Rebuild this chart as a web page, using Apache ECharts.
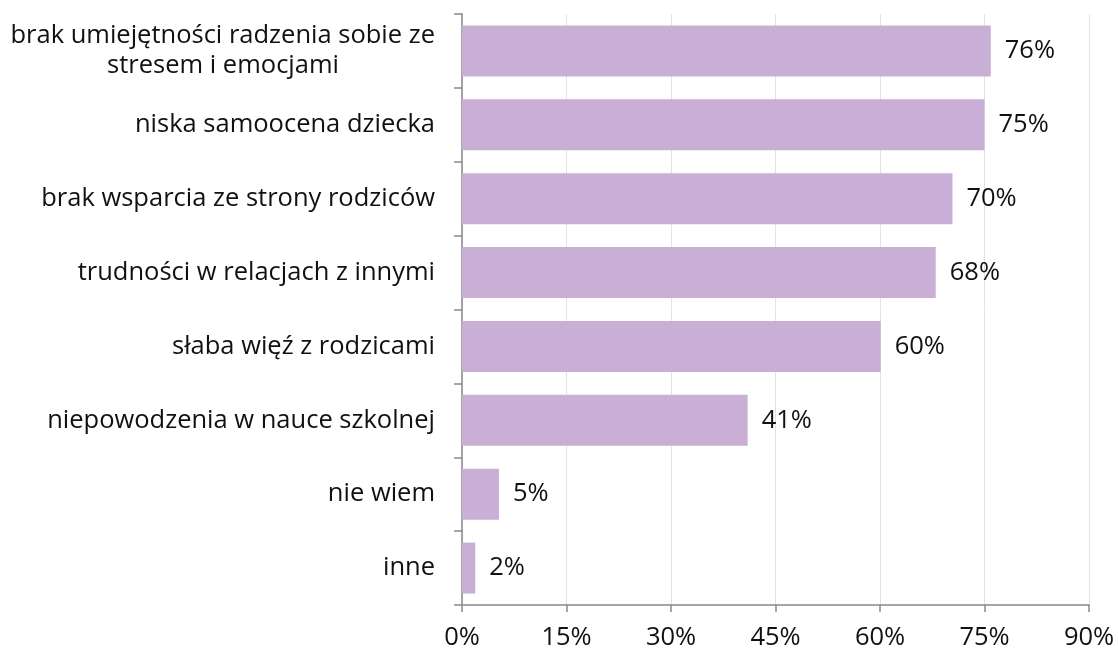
<!DOCTYPE html>
<html lang="pl">
<head>
    <meta charset="UTF-8">
    <title>Przyczyny</title>
    <style>
        body{ margin:0; }
        #chart{ width:1118px; height:653px; }
    </style>
</head>
<body>
<div id="chart"></div>
<script src="https://cdn.jsdelivr.net/npm/echarts@6/dist/echarts.min.js"></script>
<script>
    var categories = [
        'brak umiejętności radzenia sobie ze\nstresem i emocjami',
        'niska samoocena dziecka',
        'brak wsparcia ze strony rodziców',
        'trudności w relacjach z innymi',
        'słaba więź z rodzicami',
        'niepowodzenia w nauce szkolnej',
        'nie wiem',
        'inne'
    ];
    var values = [75.9, 75.0, 70.4, 68.0, 60.1, 41.0, 5.3, 1.9];
    var xTicks = [0, 15, 30, 45, 60, 75, 90];

    var font = '"Open Sans", sans-serif';
    var fs = 25.5;

    // szerokość tekstu, żeby wyśrodkować drugą linię etykiety
    var ctx = document.createElement('canvas').getContext('2d');
    ctx.font = fs + 'px ' + font;
    function textW(t) { return ctx.measureText(t).width; }
    var p0 = categories[0].split('\n');
    var padRight = Math.round((textW(p0[0]) - textW(p0[1])) / 2);

    var myChart = echarts.init(document.getElementById('chart'));
    var option = {
        textStyle: { fontFamily: font },
        grid: { left: 462, right: 29, top: 14, bottom: 48 },
        xAxis: {
            type: 'value',
            min: xTicks[0],
            max: xTicks[xTicks.length - 1],
            interval: 15,
            axisLine: { show: true, lineStyle: { color: '#898989', width: 1.5 } },
            axisTick: { show: true, length: 7, lineStyle: { color: '#898989', width: 1.5 } },
            splitLine: { show: true, lineStyle: { color: '#e3e3e3' } },
            axisLabel: {
                formatter: '{value}%', color: '#111', fontSize: fs, margin: 20,
                fontFamily: font
            }
        },
        yAxis: {
            type: 'category',
            inverse: true,
            data: categories,
            axisLine: { show: true, lineStyle: { color: '#898989', width: 1.5 } },
            axisTick: { show: true, length: 8, lineStyle: { color: '#898989', width: 1.5 } },
            axisLabel: {
                color: '#111', fontSize: fs, margin: 27, lineHeight: 30,
                fontFamily: font,
                formatter: function (v) {
                    var parts = v.split('\n');
                    if (parts.length < 2) return v;
                    return parts[0] + '\n{c|' + parts[1] + '}';
                },
                rich: {
                    c: { fontSize: fs, color: '#111', lineHeight: 30, fontFamily: font,
                         padding: [0, padRight, 0, 0] }
                }
            }
        },
        series: [{
            type: 'bar',
            data: values,
            barCategoryGap: '31%',
            itemStyle: { color: '#c9afd6' },
            label: {
                show: true, position: 'right', distance: 14,
                color: '#111', fontSize: fs,
                fontFamily: font,
                formatter: function (p) { return Math.round(p.value) + '%'; }
            }
        }]
    };
    myChart.setOption(option);
</script>
</body>
</html>
